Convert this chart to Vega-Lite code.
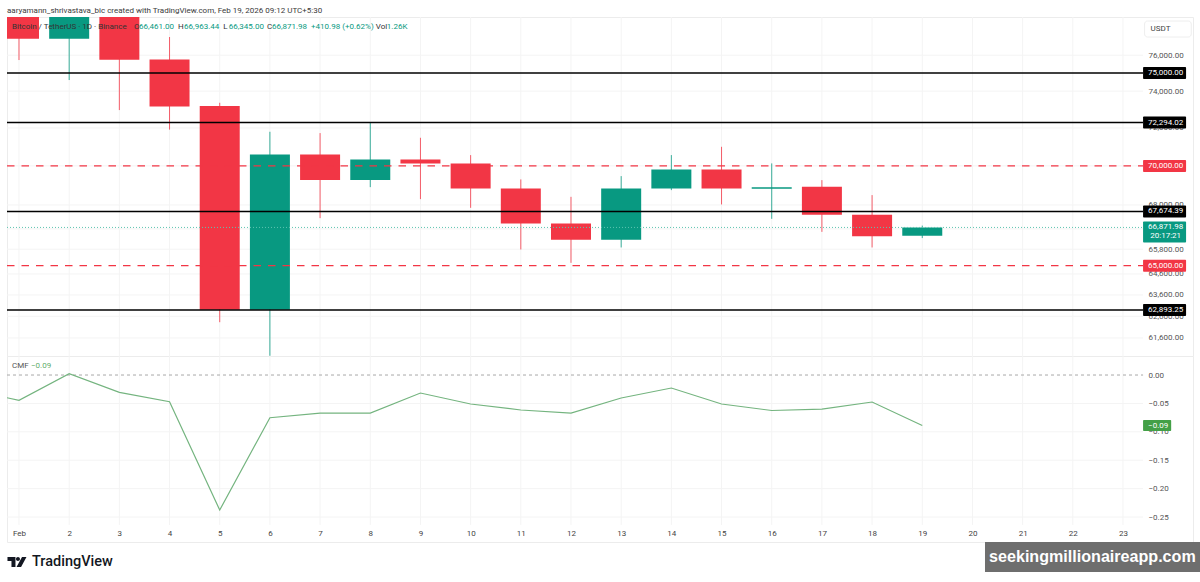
{
  "$schema": "https://vega.github.io/schema/vega-lite/v6.json",
  "padding": {"left": 4, "top": 0, "right": 0, "bottom": 0},
  "background": "#ffffff",
  "spacing": 0,
  "bounds": "flush",
  "config": {
    "font": "Roboto",
    "view": {"stroke": null},
    "concat": {"spacing": 0}
  },
  "datasets": {
    "candles": [
      {"day": 1, "open": 78700, "close": 76937, "high": 79300, "low": 75728, "kind": "down"},
      {"day": 2, "open": 76937, "close": 78700, "high": 79300, "low": 74611, "kind": "up"},
      {"day": 3, "open": 78700, "close": 75746, "high": 79300, "low": 72965, "kind": "down"},
      {"day": 4, "open": 75757, "close": 73155, "high": 77035, "low": 71914, "kind": "down"},
      {"day": 5, "open": 73180, "close": 62900, "high": 73362, "low": 62325, "kind": "down"},
      {"day": 6, "open": 62900, "close": 70600, "high": 71798, "low": 60790, "kind": "up"},
      {"day": 7, "open": 70600, "close": 69265, "high": 71727, "low": 67335, "kind": "down"},
      {"day": 8, "open": 69265, "close": 70339, "high": 72317, "low": 68905, "kind": "up"},
      {"day": 9, "open": 70339, "close": 70130, "high": 71478, "low": 68294, "kind": "down"},
      {"day": 10, "open": 70130, "close": 68839, "high": 70564, "low": 67853, "kind": "down"},
      {"day": 11, "open": 68839, "close": 67070, "high": 69301, "low": 65786, "kind": "down"},
      {"day": 12, "open": 67070, "close": 66258, "high": 68410, "low": 65135, "kind": "down"},
      {"day": 13, "open": 66258, "close": 68839, "high": 69471, "low": 65885, "kind": "up"},
      {"day": 14, "open": 68839, "close": 69818, "high": 70564, "low": 68752, "kind": "up"},
      {"day": 15, "open": 69818, "close": 68839, "high": 71001, "low": 68024, "kind": "down"},
      {"day": 16, "open": 68818, "close": 68905, "high": 70130, "low": 67300, "kind": "up"},
      {"day": 17, "open": 68920, "close": 67500, "high": 69265, "low": 66652, "kind": "down"},
      {"day": 18, "open": 67500, "close": 66440, "high": 68497, "low": 65885, "kind": "down"},
      {"day": 19, "open": 66461, "close": 66871.98, "high": 66963.44, "low": 66345, "kind": "up"}
    ],
    "levels": [
      {"price": 75000, "kind": "level"},
      {"price": 72294.02, "kind": "level"},
      {"price": 70000, "kind": "target"},
      {"price": 67674.39, "kind": "level"},
      {"price": 65000, "kind": "target"},
      {"price": 62893.25, "kind": "level"}
    ],
    "last": [{"price": 66871.98, "kind": "last", "countdown": "20:17:21"}],
    "priceTicks": [
      {"price": 76000}, {"price": 74000}, {"price": 72000}, {"price": 70000}, {"price": 68000},
      {"price": 66800}, {"price": 65800}, {"price": 64600}, {"price": 63600}, {"price": 62600}, {"price": 61600}
    ],
    "legend": [
      {"day": 0.86, "price": 77609, "text": "Bitcoin / TetherUS · 1D · Binance", "kind": "label"},
      {"day": 3.29, "price": 77609, "text": "O", "kind": "label"},
      {"day": 3.39, "price": 77609, "text": "66,461.00", "kind": "value"},
      {"day": 4.17, "price": 77609, "text": "H", "kind": "label"},
      {"day": 4.29, "price": 77609, "text": "66,963.44", "kind": "value"},
      {"day": 5.07, "price": 77609, "text": "L", "kind": "label"},
      {"day": 5.18, "price": 77609, "text": "66,345.00", "kind": "value"},
      {"day": 5.94, "price": 77609, "text": "C", "kind": "label"},
      {"day": 6.04, "price": 77609, "text": "66,871.98", "kind": "value"},
      {"day": 6.82, "price": 77609, "text": "+410.98 (+0.62%)", "kind": "value"},
      {"day": 8.11, "price": 77609, "text": "Vol", "kind": "label"},
      {"day": 8.33, "price": 77609, "text": "1.26K", "kind": "value"}
    ],
    "cmf": [
      {"day": 0.761, "cmf": -0.04},
      {"day": 1, "cmf": -0.0445},
      {"day": 2, "cmf": 0.0023},
      {"day": 3, "cmf": -0.0305},
      {"day": 4, "cmf": -0.047},
      {"day": 5, "cmf": -0.2377},
      {"day": 6, "cmf": -0.0752},
      {"day": 7, "cmf": -0.067},
      {"day": 8, "cmf": -0.067},
      {"day": 9, "cmf": -0.0317},
      {"day": 10, "cmf": -0.051},
      {"day": 11, "cmf": -0.0616},
      {"day": 12, "cmf": -0.067},
      {"day": 13, "cmf": -0.0405},
      {"day": 14, "cmf": -0.0229},
      {"day": 15, "cmf": -0.051},
      {"day": 16, "cmf": -0.0625},
      {"day": 17, "cmf": -0.06},
      {"day": 18, "cmf": -0.0475},
      {"day": 19, "cmf": -0.089}
    ],
    "days": [
      {"day": 1, "from": 0.0335, "to": -0.264}, {"day": 2, "from": 0.0335, "to": -0.264}, {"day": 3, "from": 0.0335, "to": -0.264},
      {"day": 4, "from": 0.0335, "to": -0.264}, {"day": 5, "from": 0.0335, "to": -0.264}, {"day": 6, "from": 0.0335, "to": -0.264},
      {"day": 7, "from": 0.0335, "to": -0.264}, {"day": 8, "from": 0.0335, "to": -0.264}, {"day": 9, "from": 0.0335, "to": -0.264},
      {"day": 10, "from": 0.0335, "to": -0.264}, {"day": 11, "from": 0.0335, "to": -0.264}, {"day": 12, "from": 0.0335, "to": -0.264},
      {"day": 13, "from": 0.0335, "to": -0.264}, {"day": 14, "from": 0.0335, "to": -0.264}, {"day": 15, "from": 0.0335, "to": -0.264},
      {"day": 16, "from": 0.0335, "to": -0.264}, {"day": 17, "from": 0.0335, "to": -0.264}, {"day": 18, "from": 0.0335, "to": -0.264},
      {"day": 19, "from": 0.0335, "to": -0.264}, {"day": 20, "from": 0.0335, "to": -0.264}, {"day": 21, "from": 0.0335, "to": -0.264},
      {"day": 22, "from": 0.0335, "to": -0.264}, {"day": 23, "from": 0.0335, "to": -0.264}
    ],
    "cmfTicks": [{"cmf": -0.05}, {"cmf": -0.1}, {"cmf": -0.15}, {"cmf": -0.2}, {"cmf": -0.25}]
  },
  "vconcat": [
    {
      "width": 1186,
      "height": 17,
      "data": {"values": [{"day": 0.761, "row": 11, "text": "aaryamann_shrivastava_bic created with TradingView.com, Feb 19, 2026 09:12 UTC+5:30"}]},
      "mark": {"type": "text", "align": "left", "baseline": "middle", "fontSize": 8, "color": "#3a3a3a"},
      "encoding": {
        "x": {"field": "day", "type": "quantitative", "axis": null, "scale": {"domain": [0.761, 24.395], "nice": false, "zero": false}},
        "y": {"field": "row", "type": "quantitative", "axis": null, "scale": {"domain": [17, 0], "nice": false, "zero": false}},
        "text": {"field": "text"}
      }
    },
    {
      "width": 1186,
      "height": 339,
      "view": {"stroke": "#ececec"},
      "encoding": {
        "y": {
          "field": "price",
          "type": "quantitative",
          "scale": {"type": "log", "domain": [60780, 78189], "nice": false, "zero": false, "padding": 0},
          "axis": {
            "orient": "right",
            "values": [76000, 74000, 72000, 68000, 66800, 65800, 64600, 63600, 62600, 61600],
            "format": ",.2f",
            "labelAlign": "left",
            "labelPadding": -45,
            "labelFontSize": 8,
            "labelColor": "#555555",
            "labelOverlap": false,
            "grid": false, "ticks": false, "domain": false, "title": null
          }
        },
        "color": {
          "field": "kind",
          "type": "nominal",
          "legend": null,
          "scale": {
            "domain": ["up", "down", "level", "target", "last", "label", "value"],
            "range": ["#089981", "#f23645", "#000000", "#f23645", "#089981", "#333333", "#089981"]
          }
        }
      },
      "layer": [
        {
          "data": {"name": "days"},
          "mark": {"type": "rule", "strokeWidth": 1},
          "encoding": {
            "x": {
              "field": "day",
              "type": "quantitative",
              "axis": null,
              "scale": {"domain": [0.761, 24.395], "nice": false, "zero": false, "padding": 0}
            },
            "y": null,
            "color": {"value": "#f4f4f4"}
          }
        },
        {
          "data": {"name": "priceTicks"},
          "mark": {"type": "rule", "strokeWidth": 1},
          "encoding": {"x": {"datum": 0.761}, "x2": {"datum": 23.4}, "color": {"value": "#f4f4f4"}}
        },
        {
          "data": {"name": "candles"},
          "mark": {"type": "rule", "strokeWidth": 1, "clip": true, "opacity": 0.8},
          "encoding": {
            "x": {"field": "day", "type": "quantitative"},
            "y": {"field": "low", "type": "quantitative"},
            "y2": {"field": "high"}
          }
        },
        {
          "data": {"name": "candles"},
          "mark": {"type": "bar", "size": 40, "clip": true},
          "encoding": {
            "x": {"field": "day", "type": "quantitative"},
            "y": {"field": "open", "type": "quantitative"},
            "y2": {"field": "close"}
          }
        },
        {
          "data": {"name": "last"},
          "mark": {"type": "rule", "strokeWidth": 1, "strokeDash": [1, 2]},
          "encoding": {"x": {"datum": 0.761}, "x2": {"datum": 23.4}, "color": {"value": "#5cc4b0"}}
        },
        {
          "data": {"name": "levels"},
          "transform": [{"filter": "datum.kind == 'level'"}],
          "mark": {"type": "rule", "strokeWidth": 1.5},
          "encoding": {"x": {"datum": 0.761}, "x2": {"datum": 23.4}}
        },
        {
          "data": {"name": "levels"},
          "transform": [{"filter": "datum.kind == 'target'"}],
          "mark": {"type": "rule", "strokeWidth": 1.4, "strokeDash": [7.5, 7]},
          "encoding": {"x": {"datum": 0.761}, "x2": {"datum": 23.4}}
        },
        {
          "data": {"name": "levels"},
          "mark": {"type": "bar", "height": 12, "cornerRadius": 1},
          "encoding": {"x": {"datum": 23.4}, "x2": {"datum": 24.257}}
        },
        {
          "data": {"name": "levels"},
          "mark": {"type": "text", "align": "center", "baseline": "middle", "fontSize": 8},
          "encoding": {
            "x": {"datum": 23.85},
            "text": {"field": "price", "type": "quantitative", "format": ",.2f"},
            "color": {"value": "#ffffff"}
          }
        },
        {
          "data": {"name": "last"},
          "mark": {"type": "bar", "height": 21, "yOffset": 4.5, "cornerRadius": 1},
          "encoding": {"x": {"datum": 23.4}, "x2": {"datum": 24.257}}
        },
        {
          "data": {"name": "last"},
          "mark": {"type": "text", "align": "center", "baseline": "middle", "fontSize": 8},
          "encoding": {
            "x": {"datum": 23.85},
            "text": {"field": "price", "type": "quantitative", "format": ",.2f"},
            "color": {"value": "#ffffff"}
          }
        },
        {
          "data": {"name": "last"},
          "mark": {"type": "text", "align": "center", "baseline": "middle", "fontSize": 8, "dy": 9},
          "encoding": {
            "x": {"datum": 23.85},
            "text": {"field": "countdown"},
            "color": {"value": "#ffffff"}
          }
        },
        {
          "data": {"name": "legend"},
          "mark": {"type": "text", "align": "left", "baseline": "middle", "fontSize": 8},
          "encoding": {"x": {"field": "day", "type": "quantitative"}, "text": {"field": "text"}}
        },
        {
          "data": {"values": [{"price": 77494, "text": "USDT"}]},
          "mark": {"type": "bar", "height": 16, "cornerRadius": 3, "stroke": "#eeeeee"},
          "encoding": {"x": {"datum": 23.43}, "x2": {"datum": 24.36}, "color": {"value": "#ffffff"}}
        },
        {
          "data": {"values": [{"price": 77494, "text": "USDT"}]},
          "mark": {"type": "text", "align": "left", "baseline": "middle", "fontSize": 8},
          "encoding": {"x": {"datum": 23.55}, "text": {"field": "text"}, "color": {"value": "#444444"}}
        }
      ]
    },
    {
      "width": 1186,
      "height": 186,
      "view": {"stroke": "#ececec"},
      "encoding": {
        "y": {
          "field": "cmf",
          "type": "quantitative",
          "scale": {"domain": [-0.294, 0.0335], "nice": false, "zero": false, "padding": 0},
          "axis": {
            "orient": "right",
            "values": [0, -0.05, -0.1, -0.15, -0.2, -0.25],
            "format": ".2f",
            "labelAlign": "left",
            "labelPadding": -45,
            "labelFontSize": 8,
            "labelColor": "#555555",
            "labelOverlap": false,
            "labelBound": false,
            "grid": false, "ticks": false, "domain": false, "title": null
          }
        }
      },
      "layer": [
        {
          "data": {"name": "days"},
          "mark": {"type": "rule", "color": "#f4f4f4", "strokeWidth": 1},
          "encoding": {
            "x": {
              "field": "day",
              "type": "quantitative",
              "scale": {"domain": [0.761, 24.395], "nice": false, "zero": false, "padding": 0},
              "axis": {
                "values": [1,2,3,4,5,6,7,8,9,10,11,12,13,14,15,16,17,18,19,20,21,22,23],
                "labelExpr": "datum.value == 1 ? 'Feb' : datum.value",
                "labelPadding": -9,
                "labelBaseline": "middle",
                "labelFontSize": 8,
                "labelColor": "#444444",
                "labelFlush": false,
                "labelOverlap": false,
                "grid": false, "ticks": false, "domain": false, "title": null
              }
            },
            "y": {"field": "from", "type": "quantitative"},
            "y2": {"field": "to"}
          }
        },
        {
          "data": {"name": "cmfTicks"},
          "mark": {"type": "rule", "color": "#f4f4f4", "strokeWidth": 1},
          "encoding": {"x": {"datum": 0.761}, "x2": {"datum": 23.4}}
        },
        {
          "data": {"values": [{"cmf": 0}]},
          "mark": {"type": "rule", "color": "#a8a8a8", "strokeWidth": 1, "strokeDash": [3, 3]},
          "encoding": {"x": {"datum": 0.761}, "x2": {"datum": 23.4}}
        },
        {
          "data": {"name": "cmf"},
          "mark": {"type": "line", "color": "#74b47f", "strokeWidth": 1.2},
          "encoding": {"x": {"field": "day", "type": "quantitative"}}
        },
        {
          "data": {"values": [{"cmf": -0.089}]},
          "mark": {"type": "bar", "height": 11, "color": "#43a047", "cornerRadius": 1},
          "encoding": {"x": {"datum": 23.4}, "x2": {"datum": 23.96}}
        },
        {
          "data": {"values": [{"cmf": -0.089, "text": "−0.09"}]},
          "mark": {"type": "text", "align": "left", "baseline": "middle", "fontSize": 8, "color": "#ffffff"},
          "encoding": {"x": {"datum": 23.5}, "text": {"field": "text"}}
        },
        {
          "data": {"values": [{"day": 0.86, "cmf": 0.0158, "text": "CMF"}]},
          "mark": {"type": "text", "align": "left", "baseline": "middle", "fontSize": 8, "color": "#555555"},
          "encoding": {"x": {"field": "day", "type": "quantitative"}, "text": {"field": "text"}}
        },
        {
          "data": {"values": [{"day": 1.24, "cmf": 0.0158, "text": "−0.09"}]},
          "mark": {"type": "text", "align": "left", "baseline": "middle", "fontSize": 8, "color": "#5fae6b"},
          "encoding": {"x": {"field": "day", "type": "quantitative"}, "text": {"field": "text"}}
        }
      ]
    },
    {
      "width": 1186,
      "height": 40,
      "encoding": {
        "y": {"field": "row", "type": "quantitative", "axis": null, "scale": {"domain": [40, 0], "nice": false, "zero": false, "padding": 0}}
      },
      "layer": [
        {
          "data": {"values": [{"day": 0.96, "row": 20}]},
          "mark": {
            "type": "point",
            "filled": true,
            "size": 361,
            "opacity": 1,
            "color": "#131722",
            "shape": "M-1,-.53 L-.16,-.53 L-.16,.53 L-.58,.53 L-.58,-.11 L-1,-.11 Z M-.105,-.316 A.21,.21 0 1 1 .315,-.316 A.21,.21 0 1 1 -.105,-.316 Z M.53,-.53 L1,-.53 L.43,.53 L-.05,.53 Z"
          },
          "encoding": {
            "x": {"field": "day", "type": "quantitative", "axis": null, "scale": {"domain": [0.761, 24.395], "nice": false, "zero": false, "padding": 0}}
          }
        },
        {
          "data": {"values": [{"day": 1.26, "row": 20, "text": "TradingView"}]},
          "mark": {"type": "text", "align": "left", "baseline": "middle", "fontSize": 14.5, "fontWeight": 500, "color": "#131722"},
          "encoding": {"x": {"field": "day", "type": "quantitative"}, "text": {"field": "text"}}
        },
        {
          "data": {"values": [{"row": 15}]},
          "mark": {"type": "bar", "height": 30, "color": "#6e6e6e"},
          "encoding": {"x": {"datum": 20.25}, "x2": {"datum": 24.535}}
        },
        {
          "data": {"values": [{"day": 22.39, "row": 15, "text": "seekingmillionaireapp.com"}]},
          "mark": {"type": "text", "align": "center", "baseline": "middle", "font": "Liberation Sans", "fontSize": 16.1, "fontWeight": "bold", "color": "#ffffff"},
          "encoding": {"x": {"field": "day", "type": "quantitative"}, "text": {"field": "text"}}
        }
      ]
    }
  ]
}
